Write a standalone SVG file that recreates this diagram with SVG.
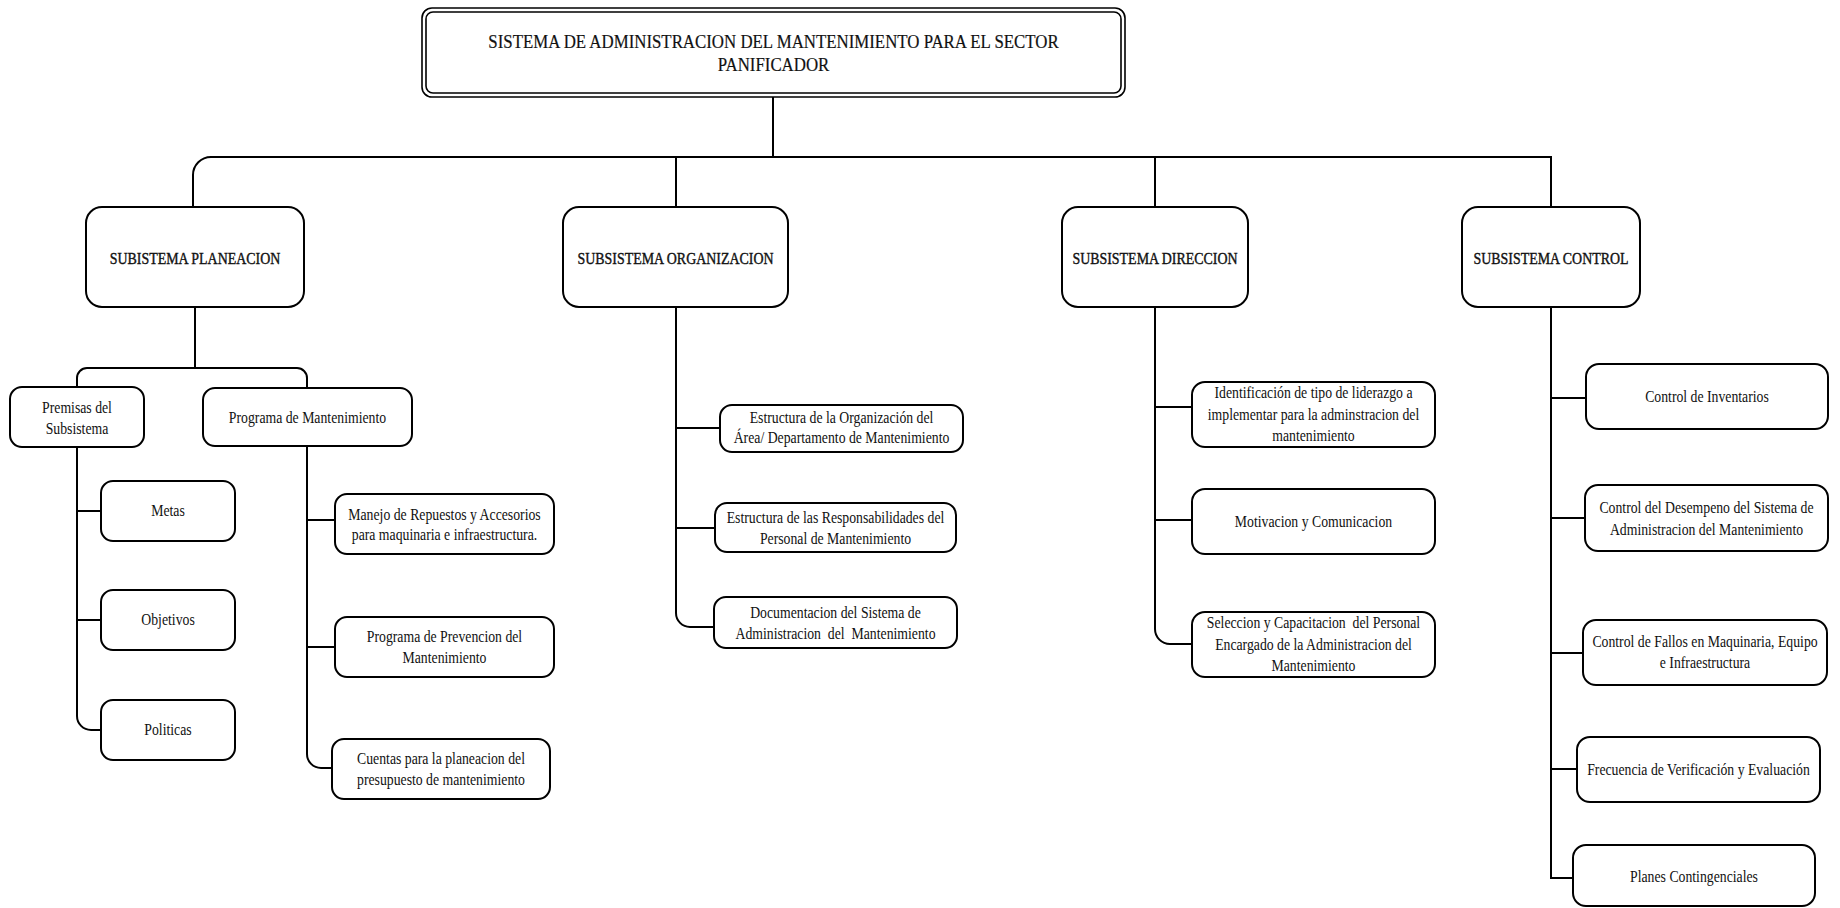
<svg xmlns="http://www.w3.org/2000/svg" width="1840" height="908" viewBox="0 0 1840 908">
<style>
.bg{fill:#fff}
.box{fill:#fff;stroke:#000;stroke-width:2}
.rb{fill:#fff;stroke:#000;stroke-width:1.6}
.ln{fill:none;stroke:#000;stroke-width:2}
text{font-family:"Liberation Serif","Times New Roman",serif;fill:#111;text-anchor:middle}
.t{font-size:16px}
.h{font-size:17px;stroke:#111;stroke-width:0.4}
.r{font-size:19px;stroke:#111;stroke-width:0.2}
</style>
<rect class="bg" x="0" y="0" width="1840" height="908"/>
<g id="connectors">
<path class="ln" d="M773 97V157"/>
<path class="ln" d="M1551 207V157H211A18 18 0 0 0 193 175V207"/>
<path class="ln" d="M676 157V207"/>
<path class="ln" d="M1155 157V207"/>
<path class="ln" d="M195 307V368"/>
<path class="ln" d="M77 387V378A10 10 0 0 1 87 368H297A10 10 0 0 1 307 378V388"/>
<path class="ln" d="M77 447V716A14 14 0 0 0 91 730H101"/>
<path class="ln" d="M77 511H101M77 620H101"/>
<path class="ln" d="M307 446V754A14 14 0 0 0 321 768H332"/>
<path class="ln" d="M307 520H335M307 647H335"/>
<path class="ln" d="M676 307V613A14 14 0 0 0 690 627H714"/>
<path class="ln" d="M676 428H720M676 528H715"/>
<path class="ln" d="M1155 307V629A15 15 0 0 0 1170 644H1192"/>
<path class="ln" d="M1155 407H1192M1155 520H1192"/>
<path class="ln" d="M1551 307V878H1573"/>
<path class="ln" d="M1551 398H1586M1551 518H1585M1551 653H1583M1551 769H1577"/>
</g>
<g id="root">
<rect class="rb" x="422" y="8" width="703" height="89" rx="10"/>
<rect class="rb" x="426" y="12" width="695" height="81" rx="7"/>
<text class="r" transform="translate(773.5,0) scale(.887,1)"><tspan x="0" y="48">SISTEMA DE ADMINISTRACION DEL MANTENIMIENTO PARA EL SECTOR</tspan><tspan x="0" y="71">PANIFICADOR</tspan></text>
</g>
<g id="sub-planeacion">
<rect class="box" x="86" y="207" width="218" height="100" rx="16"/>
<text class="h" transform="translate(195,0) scale(.82,1)"><tspan x="0" y="264">SUBISTEMA PLANEACION</tspan></text>
</g>
<g id="sub-organizacion">
<rect class="box" x="563" y="207" width="225" height="100" rx="16"/>
<text class="h" transform="translate(675.5,0) scale(.82,1)"><tspan x="0" y="264">SUBSISTEMA ORGANIZACION</tspan></text>
</g>
<g id="sub-direccion">
<rect class="box" x="1062" y="207" width="186" height="100" rx="16"/>
<text class="h" transform="translate(1155,0) scale(.82,1)"><tspan x="0" y="264">SUBSISTEMA DIRECCION</tspan></text>
</g>
<g id="sub-control">
<rect class="box" x="1462" y="207" width="178" height="100" rx="16"/>
<text class="h" transform="translate(1551,0) scale(.82,1)"><tspan x="0" y="264">SUBSISTEMA CONTROL</tspan></text>
</g>
<g id="premisas">
<rect class="box" x="10" y="387" width="134" height="60" rx="12"/>
<text class="t" transform="translate(77,0) scale(.86,1)"><tspan x="0" y="413">Premisas del</tspan><tspan x="0" y="434">Subsistema</tspan></text>
</g>
<g id="programa">
<rect class="box" x="203" y="388" width="209" height="58" rx="12"/>
<text class="t" transform="translate(307.5,0) scale(.86,1)"><tspan x="0" y="423">Programa de Mantenimiento</tspan></text>
</g>
<g id="metas">
<rect class="box" x="101" y="481" width="134" height="60" rx="12"/>
<text class="t" transform="translate(168,0) scale(.86,1)"><tspan x="0" y="516">Metas</tspan></text>
</g>
<g id="objetivos">
<rect class="box" x="101" y="590" width="134" height="60" rx="12"/>
<text class="t" transform="translate(168,0) scale(.86,1)"><tspan x="0" y="625">Objetivos</tspan></text>
</g>
<g id="politicas">
<rect class="box" x="101" y="700" width="134" height="60" rx="12"/>
<text class="t" transform="translate(168,0) scale(.86,1)"><tspan x="0" y="735">Politicas</tspan></text>
</g>
<g id="manejo">
<rect class="box" x="335" y="494" width="219" height="60" rx="12"/>
<text class="t" transform="translate(444.5,0) scale(.86,1)"><tspan x="0" y="520">Manejo de Repuestos y Accesorios</tspan><tspan x="0" y="540">para maquinaria e infraestructura.</tspan></text>
</g>
<g id="prevencion">
<rect class="box" x="335" y="617" width="219" height="60" rx="12"/>
<text class="t" transform="translate(444.5,0) scale(.86,1)"><tspan x="0" y="642">Programa de Prevencion del</tspan><tspan x="0" y="663">Mantenimiento</tspan></text>
</g>
<g id="cuentas">
<rect class="box" x="332" y="739" width="218" height="60" rx="12"/>
<text class="t" transform="translate(441,0) scale(.86,1)"><tspan x="0" y="764">Cuentas para la planeacion del</tspan><tspan x="0" y="785">presupuesto de mantenimiento</tspan></text>
</g>
<g id="estructura-org">
<rect class="box" x="720" y="405" width="243" height="47" rx="12"/>
<text class="t" transform="translate(841.5,0) scale(.86,1)"><tspan x="0" y="423">Estructura de la Organización del</tspan><tspan x="0" y="443">Área/ Departamento de Mantenimiento</tspan></text>
</g>
<g id="responsabilidades">
<rect class="box" x="715" y="503" width="241" height="49" rx="12"/>
<text class="t" transform="translate(835.5,0) scale(.86,1)"><tspan x="0" y="523">Estructura de las Responsabilidades del</tspan><tspan x="0" y="544">Personal de Mantenimiento</tspan></text>
</g>
<g id="documentacion">
<rect class="box" x="714" y="597" width="243" height="51" rx="12"/>
<text class="t" xml:space="preserve" transform="translate(835.5,0) scale(.86,1)"><tspan x="0" y="618">Documentacion del Sistema de</tspan><tspan x="0" y="639">Administracion  del  Mantenimiento</tspan></text>
</g>
<g id="liderazgo">
<rect class="box" x="1192" y="382" width="243" height="65" rx="13"/>
<text class="t" transform="translate(1313.5,0) scale(.86,1)"><tspan x="0" y="398">Identificación de tipo de liderazgo a</tspan><tspan x="0" y="420">implementar para la adminstracion del</tspan><tspan x="0" y="441">mantenimiento</tspan></text>
</g>
<g id="motivacion">
<rect class="box" x="1192" y="489" width="243" height="65" rx="13"/>
<text class="t" transform="translate(1313.5,0) scale(.86,1)"><tspan x="0" y="527">Motivacion y Comunicacion</tspan></text>
</g>
<g id="seleccion">
<rect class="box" x="1192" y="612" width="243" height="65" rx="13"/>
<text class="t" xml:space="preserve" transform="translate(1313.5,0) scale(.86,1)"><tspan x="0" y="628">Seleccion y Capacitacion  del Personal</tspan><tspan x="0" y="650">Encargado de la Administracion del</tspan><tspan x="0" y="671">Mantenimiento</tspan></text>
</g>
<g id="inventarios">
<rect class="box" x="1586" y="364" width="242" height="65" rx="13"/>
<text class="t" transform="translate(1707,0) scale(.86,1)"><tspan x="0" y="402">Control de Inventarios</tspan></text>
</g>
<g id="desempeno">
<rect class="box" x="1585" y="485" width="243" height="66" rx="13"/>
<text class="t" transform="translate(1706.5,0) scale(.86,1)"><tspan x="0" y="513">Control del Desempeno del Sistema de</tspan><tspan x="0" y="535">Administracion del Mantenimiento</tspan></text>
</g>
<g id="fallos">
<rect class="box" x="1583" y="620" width="244" height="65" rx="13"/>
<text class="t" transform="translate(1705,0) scale(.86,1)"><tspan x="0" y="647">Control de Fallos en Maquinaria, Equipo</tspan><tspan x="0" y="668">e Infraestructura</tspan></text>
</g>
<g id="frecuencia">
<rect class="box" x="1577" y="737" width="243" height="65" rx="13"/>
<text class="t" transform="translate(1698.5,0) scale(.86,1)"><tspan x="0" y="775">Frecuencia de Verificación y Evaluación</tspan></text>
</g>
<g id="planes">
<rect class="box" x="1573" y="845" width="242" height="61" rx="13"/>
<text class="t" transform="translate(1694,0) scale(.86,1)"><tspan x="0" y="882">Planes Contingenciales</tspan></text>
</g>
</svg>
